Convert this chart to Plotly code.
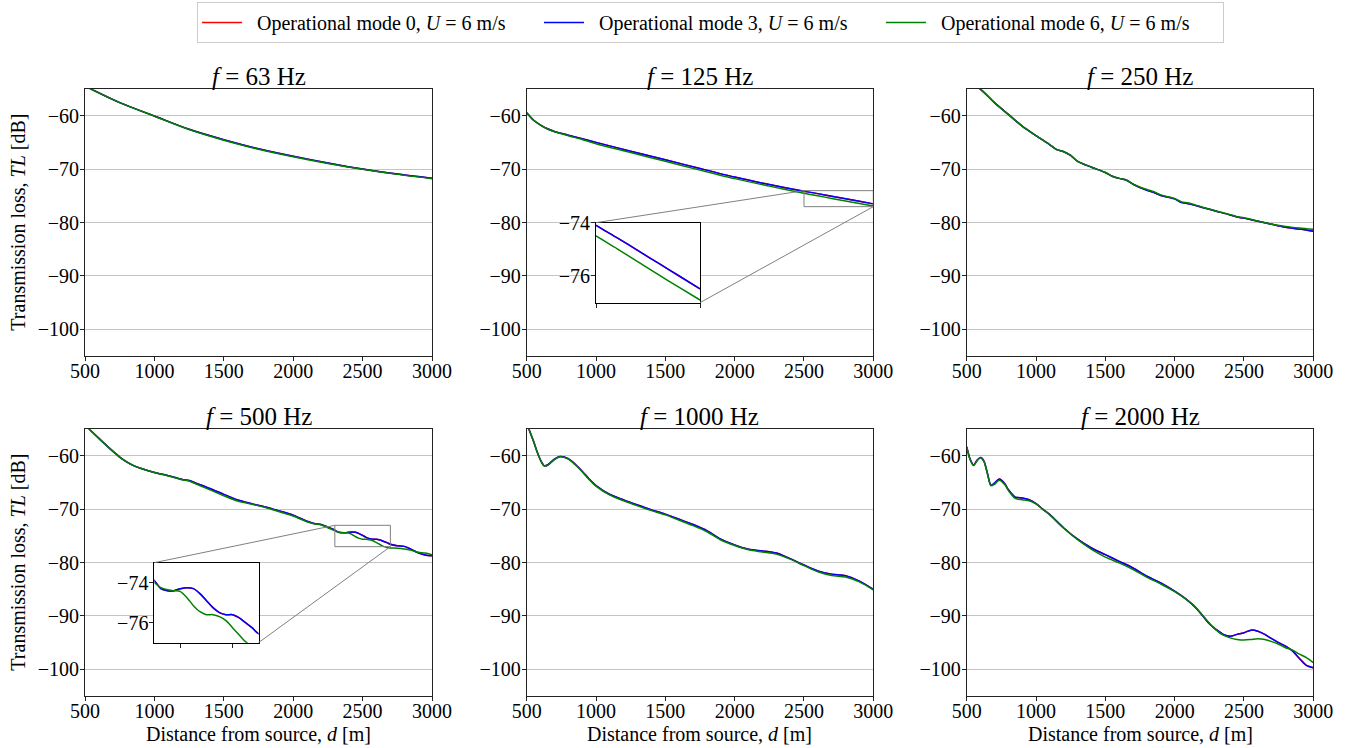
import plotly.graph_objects as go

W, H = 1351, 748
FONT = "Liberation Serif"

# ---------------- data ----------------
freqs = [63, 125, 250, 500, 1000, 2000]
series_names = [
    "\u00a0\u00a0Operational mode 0, <i>U</i> = 6 m/s",
    "\u00a0\u00a0Operational mode 3, <i>U</i> = 6 m/s",
    "\u00a0\u00a0Operational mode 6, <i>U</i> = 6 m/s",
]
series_colors = ["#ff0000", "#0000ff", "#008000"]

x_ticks = [500, 1000, 1500, 2000, 2500, 3000]
x_ticklabels = ["500", "1000", "1500", "2000", "2500", "3000"]
y_ticks = [-60, -70, -80, -90, -100]
y_ticklabels = ["\u221260", "\u221270", "\u221280", "\u221290", "\u2212100"]
inset_y_ticks = [-74, -76]
inset_y_ticklabels = ["\u221274", "\u221276"]

# 63 Hz
d_63 = [500, 750, 1000, 1250, 1500, 1750, 2000, 2250, 2500, 2750, 3000]
tl3_63 = [-54.4, -57.5, -60.0, -62.5, -64.45, -66.15, -67.55, -68.8, -69.95, -70.9, -71.7]
tl6_63 = [-54.4, -57.5, -60.05, -62.55, -64.55, -66.25, -67.65, -68.9, -70.0, -70.95, -71.75]
tl0_63 = [-54.4, -57.5, -60.0, -62.5, -64.45, -66.15, -67.55, -68.8, -69.95, -70.9, -71.7]

# 125 Hz
d_125 = [500, 550, 600, 650, 700, 800, 900, 1000, 1250, 1500, 1750, 2000, 2250, 2500, 2600, 2700, 2800, 2900, 3000]
tl3_125 = [-59.4, -60.8, -61.7, -62.4, -62.9, -63.6, -64.25, -64.95, -66.6, -68.2, -69.85, -71.45, -72.85, -74.1, -74.56, -75.04, -75.52, -76.0, -76.48]
tl6_125 = [-59.4, -60.8, -61.7, -62.45, -62.95, -63.7, -64.4, -65.2, -66.85, -68.5, -70.15, -71.75, -73.15, -74.5, -74.97, -75.46, -75.95, -76.43, -76.9]
tl0_125 = [-59.4, -60.8, -61.7, -62.4, -62.9, -63.6, -64.25, -64.95, -66.6, -68.2, -69.85, -71.45, -72.85, -74.1, -74.56, -75.04, -75.52, -76.0, -76.48]

# 250 Hz
d_250 = [500, 600, 700, 800, 900, 1000, 1100, 1150, 1200, 1250, 1300, 1400, 1500, 1550, 1600, 1650, 1700,
         1800, 1850, 1900, 2000, 2050, 2100, 2200, 2300, 2400, 2450, 2500, 2600, 2700, 2800, 2900, 3000]
tl3_250 = [-53.6, -55.0, -57.5, -59.7, -61.9, -63.7, -65.4, -66.3, -66.7, -67.4, -68.5, -69.6, -70.6, -71.3, -71.7,
           -72.0, -72.8, -73.95, -74.35, -74.9, -75.55, -76.25, -76.45, -77.15, -77.85, -78.55, -78.95, -79.15,
           -79.75, -80.3, -80.85, -81.2, -81.6]
tl6_250 = [-53.6, -55.0, -57.5, -59.7, -61.9, -63.7, -65.4, -66.3, -66.7, -67.4, -68.5, -69.6, -70.6, -71.3, -71.7,
           -72.0, -72.8, -73.8, -74.2, -74.8, -75.5, -76.1, -76.3, -77.1, -77.8, -78.5, -78.9, -79.1,
           -79.7, -80.3, -80.7, -81.0, -81.25]
tl0_250 = [-53.6, -55.0, -57.5, -59.7, -61.9, -63.7, -65.4, -66.3, -66.7, -67.4, -68.5, -69.6, -70.6, -71.3, -71.7,
           -72.0, -72.8, -73.95, -74.35, -74.9, -75.55, -76.25, -76.45, -77.15, -77.85, -78.55, -78.95, -79.15,
           -79.75, -80.3, -80.85, -81.2, -81.6]

# 500 Hz
d_500 = [500, 600, 700, 750, 800, 850, 900, 1000, 1100, 1200, 1250, 1300, 1400, 1500, 1600, 1700, 1800, 1900, 2000,
         2100, 2150, 2200, 2250, 2300, 2325, 2350, 2375, 2400, 2425, 2450, 2475, 2500, 2525, 2550, 2575, 2600,
         2625, 2650, 2675, 2700, 2750, 2800, 2850, 2900, 2950, 3000]
tl3_500 = [-54.2, -56.7, -59.1, -60.2, -61.1, -61.8, -62.3, -63.1, -63.7, -64.4, -64.6, -65.1, -66.1, -67.2, -68.25,
           -68.95, -69.55, -70.3, -71.1, -72.25, -72.65, -72.85, -73.35, -73.9, -74.3, -74.4, -74.4, -74.3,
           -74.25, -74.3, -74.55, -74.9, -75.25, -75.5, -75.6, -75.6, -75.75, -76.0, -76.25, -76.55, -76.85,
           -76.95, -77.5, -78.15, -78.55, -78.7]
tl6_500 = [-54.2, -56.7, -59.1, -60.2, -61.1, -61.8, -62.3, -63.1, -63.75, -64.45, -64.7, -65.25, -66.35, -67.45,
           -68.45, -69.05, -69.65, -70.45, -71.25, -72.35, -72.7, -72.9, -73.45, -74.0, -74.25, -74.35, -74.4,
           -74.45, -74.75, -75.15, -75.45, -75.6, -75.6, -75.7, -75.9, -76.25, -76.6, -76.95, -77.15, -77.25,
           -77.3, -77.45, -77.7, -78.05, -78.2, -78.5]
tl0_500 = [-54.2, -56.7, -59.1, -60.2, -61.1, -61.8, -62.3, -63.1, -63.7, -64.4, -64.6, -65.1, -66.1, -67.2, -68.25,
           -68.95, -69.55, -70.3, -71.1, -72.25, -72.65, -72.85, -73.35, -73.9, -74.3, -74.4, -74.4, -74.3,
           -74.25, -74.3, -74.55, -74.9, -75.25, -75.5, -75.6, -75.6, -75.75, -76.0, -76.25, -76.55, -76.85,
           -76.95, -77.5, -78.15, -78.55, -78.7]

# 1000 Hz
d_1000 = [500, 550, 575, 600, 625, 650, 700, 740, 800, 850, 900, 950, 1000, 1100, 1200, 1300, 1400, 1500, 1600,
          1700, 1800, 1900, 2000, 2100, 2200, 2300, 2400, 2500, 2600, 2700, 2800, 2900, 3000]
tl3_1000 = [-53.9, -57.3, -59.2, -60.8, -61.8, -61.7, -60.6, -60.1, -60.5, -61.55, -62.85, -64.3, -65.55, -67.2,
            -68.25, -69.2, -70.1, -70.9, -71.85, -72.85, -74.0, -75.6, -76.7, -77.5, -77.8, -78.2, -79.25, -80.45,
            -81.55, -82.15, -82.45, -83.45, -85.0]
tl6_1000 = [-53.9, -57.3, -59.2, -60.8, -61.85, -61.8, -60.7, -60.15, -60.6, -61.65, -62.95, -64.4, -65.65, -67.35,
            -68.4, -69.35, -70.25, -71.05, -72.05, -73.05, -74.2, -75.75, -76.8, -77.6, -78.0, -78.4, -79.35, -80.55,
            -81.7, -82.4, -82.7, -83.6, -85.1]
tl0_1000 = [-53.9, -57.3, -59.2, -60.8, -61.8, -61.7, -60.6, -60.1, -60.5, -61.55, -62.85, -64.3, -65.55, -67.2,
            -68.25, -69.2, -70.1, -70.9, -71.85, -72.85, -74.0, -75.6, -76.7, -77.5, -77.8, -78.2, -79.25, -80.45,
            -81.55, -82.15, -82.45, -83.45, -85.0]

# 2000 Hz
d_2000 = [500, 525, 550, 575, 600, 625, 650, 675, 700, 735, 775, 800, 850, 900, 950, 1000, 1050, 1100, 1200,
          1300, 1400, 1500, 1600, 1700, 1800, 1900, 2000, 2100, 2150, 2200, 2250, 2300, 2350, 2400, 2450, 2500,
          2550, 2600, 2650, 2700, 2750, 2800, 2850, 2900, 2950, 3000]
tl3_2000 = [-58.3, -60.6, -61.7, -60.8, -60.3, -61.0, -63.3, -65.5, -65.1, -64.3, -65.2, -66.3, -67.7, -67.9,
            -68.2, -68.95, -70.0, -71.0, -73.5, -75.6, -77.25, -78.5, -79.75, -81.0, -82.55, -83.8, -85.35, -87.2,
            -88.4, -89.9, -91.45, -92.55, -93.45, -93.8, -93.45, -93.15, -92.65, -92.85, -93.45, -94.25, -95.0,
            -95.65, -96.55, -97.95, -99.25, -99.7]
tl6_2000 = [-58.3, -60.7, -61.8, -60.9, -60.35, -61.1, -63.4, -65.6, -65.3, -64.55, -65.4, -66.45, -67.95, -68.2,
            -68.4, -69.0, -70.0, -71.05, -73.55, -75.7, -77.5, -78.95, -80.05, -81.3, -82.75, -84.0, -85.45, -87.2,
            -88.3, -89.8, -91.35, -92.65, -93.6, -94.1, -94.4, -94.5, -94.4, -94.25, -94.4, -94.8, -95.3, -95.95,
            -96.4, -97.15, -97.8, -98.75]
tl0_2000 = [-58.3, -60.6, -61.7, -60.8, -60.3, -61.0, -63.3, -65.5, -65.1, -64.3, -65.2, -66.3, -67.7, -67.9,
            -68.2, -68.95, -70.0, -71.0, -73.5, -75.6, -77.25, -78.5, -79.75, -81.0, -82.55, -83.8, -85.35, -87.2,
            -88.4, -89.9, -91.45, -92.55, -93.45, -93.8, -93.45, -93.15, -92.65, -92.85, -93.45, -94.25, -95.0,
            -95.65, -96.55, -97.95, -99.25, -99.7]

panel_data = {
    63: (d_63, [tl0_63, tl3_63, tl6_63]),
    125: (d_125, [tl0_125, tl3_125, tl6_125]),
    250: (d_250, [tl0_250, tl3_250, tl6_250]),
    500: (d_500, [tl0_500, tl3_500, tl6_500]),
    1000: (d_1000, [tl0_1000, tl3_1000, tl6_1000]),
    2000: (d_2000, [tl0_2000, tl3_2000, tl6_2000]),
}

x_range = [500, 3000]
y_range = [-105, -55]

# insets: parent freq -> (zoom x-range, zoom y-range, inset location in parent data, inset x ticks)
insets = {
    125: ([2500, 3000], [-77, -74], ([1000, 1750], [-95, -80]), [2500, 3000]),
    500: ([2300, 2700], [-77, -73], ([1000, 1750], [-95, -80]), [2400, 2600]),
}

# ---------------- layout geometry (pixels) ----------------
col_px = [(85, 432), (526.7, 873.3), (966.7, 1313.3)]
row_px = [(89.3, 356), (429.3, 696)]


def xdom(a, b):
    return [a / W, b / W]


def ydom(top, bot):
    return [1 - bot / H, 1 - top / H]


fig = go.Figure()
layout = dict(
    width=W, height=H, margin=dict(l=0, r=0, t=0, b=0, pad=0, autoexpand=False),
    paper_bgcolor="white", plot_bgcolor="white",
    font=dict(family=FONT, size=20, color="black"),
    showlegend=True,
    legend=dict(
        orientation="h", x=197 / W, xanchor="left", y=1 - 2 / H, yanchor="top",
        bordercolor="#cccccc", borderwidth=1, bgcolor="white",
        font=dict(family=FONT, size=20, color="black"),
        entrywidth=287, itemwidth=40, tracegroupgap=0,
    ),
)

axis_common = dict(
    showline=True, mirror=True, linecolor="#222222", linewidth=1,
    ticks="outside", ticklen=4, tickwidth=1, tickcolor="#222222",
    zeroline=False, tickfont=dict(family=FONT, size=20, color="black"),
    automargin=False,
)

annotations = []
shapes = []
panel_axes = {}

for i, f in enumerate(freqs):
    r, c = divmod(i, 3)
    n = i + 1
    xa = "xaxis" if n == 1 else f"xaxis{n}"
    ya = "yaxis" if n == 1 else f"yaxis{n}"
    xr = "x" if n == 1 else f"x{n}"
    yr = "y" if n == 1 else f"y{n}"
    panel_axes[f] = (xr, yr)
    cx0, cx1 = col_px[c]
    ry0, ry1 = row_px[r]
    layout[xa] = dict(axis_common, domain=xdom(cx0, cx1), range=x_range, anchor=yr,
                      tickvals=x_ticks, ticktext=x_ticklabels, showgrid=False,
                      ticklabelstandoff=-7)
    layout[ya] = dict(axis_common, domain=ydom(ry0, ry1), range=y_range, anchor=xr,
                      tickvals=y_ticks, ticktext=y_ticklabels, showgrid=True,
                      gridcolor="#c4c4c4", gridwidth=1, ticklabelstandoff=-3)
    d, vals = panel_data[f]
    for k in range(3):
        fig.add_trace(go.Scatter(
            x=d, y=vals[k], mode="lines", name=series_names[k],
            line=dict(color=series_colors[k], width=1.5, shape="spline", smoothing=0.8),
            xaxis=xr, yaxis=yr, showlegend=(i == 0), legendgroup=str(k),
        ))
    # subplot title
    annotations.append(dict(
        text=f"<i>f</i> = {f} Hz", xref="paper", yref="paper",
        x=(cx0 + cx1) / 2 / W, y=1 - (ry0 - 13) / H, xanchor="center", yanchor="middle",
        showarrow=False, font=dict(family=FONT, size=25, color="black"),
    ))
    if c == 0:
        annotations.append(dict(
            text="Transmission loss, <i>TL</i> [dB]", xref="paper", yref="paper",
            x=18 / W, y=1 - (ry0 + ry1) / 2 / H, xanchor="center", yanchor="middle",
            textangle=-90, showarrow=False, font=dict(family=FONT, size=20, color="black"),
        ))
    if r == 1:
        annotations.append(dict(
            text="Distance from source, <i>d</i> [m]", xref="paper", yref="paper",
            x=(cx0 + cx1) / 2 / W, y=1 - 734 / H, xanchor="center", yanchor="middle",
            showarrow=False, font=dict(family=FONT, size=20, color="black"),
        ))

# ---------------- insets ----------------
n = 7
for f, (zx, zy, (locx, locy), itick) in insets.items():
    i = freqs.index(f)
    r, c = divmod(i, 3)
    cx0, cx1 = col_px[c]
    ry0, ry1 = row_px[r]
    pxr, pyr = panel_axes[f]

    def px_x(v):
        return cx0 + (v - x_range[0]) / (x_range[1] - x_range[0]) * (cx1 - cx0)

    def px_y(v):
        return ry0 + (y_range[1] - v) / (y_range[1] - y_range[0]) * (ry1 - ry0)

    xa, ya, xr, yr = f"xaxis{n}", f"yaxis{n}", f"x{n}", f"y{n}"
    layout[xa] = dict(axis_common, domain=xdom(px_x(locx[0]), px_x(locx[1])), range=zx, anchor=yr,
                      tickvals=itick, showticklabels=False, showgrid=False, linecolor="#000000")
    layout[ya] = dict(axis_common, domain=ydom(px_y(locy[1]), px_y(locy[0])), range=zy, anchor=xr,
                      tickvals=inset_y_ticks, ticktext=inset_y_ticklabels, showgrid=False,
                      linecolor="#000000", ticklabelstandoff=-3)
    d, vals = panel_data[f]
    for k in range(3):
        fig.add_trace(go.Scatter(
            x=d, y=vals[k], mode="lines", name=series_names[k],
            line=dict(color=series_colors[k], width=1.5, shape="spline", smoothing=0.8),
            xaxis=xr, yaxis=yr, showlegend=False, legendgroup=str(k),
        ))
    # zoom box in parent
    shapes.append(dict(type="rect", xref=pxr, yref=pyr, x0=zx[0], x1=zx[1], y0=zy[0], y1=zy[1],
                       line=dict(color="#808080", width=1), fillcolor="rgba(0,0,0,0)", layer="above"))
    # connectors: inset top-left -> box top-left ; inset bottom-right -> box bottom-right
    shapes.append(dict(type="line", xref=pxr, yref=pyr, x0=locx[0], y0=locy[1], x1=zx[0], y1=zy[1],
                       line=dict(color="#808080", width=1), layer="above"))
    shapes.append(dict(type="line", xref=pxr, yref=pyr, x0=locx[1], y0=locy[0], x1=zx[1], y1=zy[0],
                       line=dict(color="#808080", width=1), layer="above"))
    n += 1

layout["annotations"] = annotations
layout["shapes"] = shapes
fig.update_layout(**layout)

fig.write_html("out.html", config={"displayModeBar": False},
               post_script="document.body.style.margin='0';")
